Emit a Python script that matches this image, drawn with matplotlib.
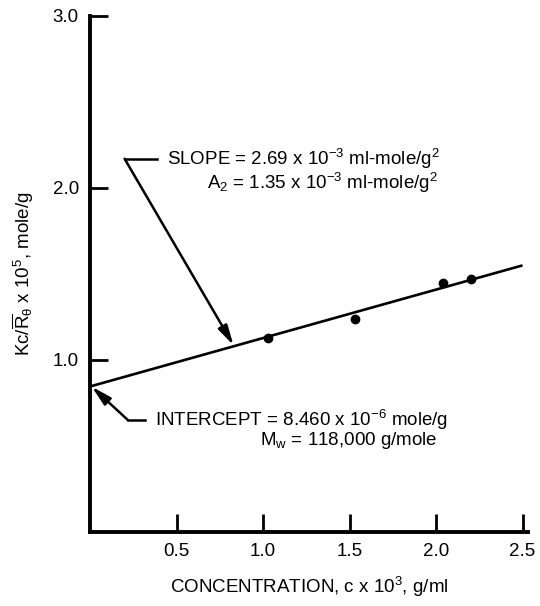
import matplotlib
matplotlib.use('Agg')
import matplotlib.pyplot as plt

plt.rcParams['font.family'] = ['Liberation Sans', 'DejaVu Sans']
plt.rcParams['mathtext.fontset'] = 'custom'
plt.rcParams['mathtext.rm'] = 'Liberation Sans'
plt.rcParams['mathtext.it'] = 'Liberation Sans:italic'
plt.rcParams['mathtext.default'] = 'regular'

# measured points (c x 10^3 g/ml, Kc/R x 10^5 mole/g)
conc = [1.03, 1.53, 2.04, 2.20]
kc_r = [1.13, 1.24, 1.45, 1.47]

# fitted line ends
fit_x = [0.0, 2.5]
fit_y = [0.846, 1.55]

x_ticks = [0.5, 1.0, 1.5, 2.0, 2.5]
y_ticks = [1.0, 2.0, 3.0]

fs = 13.5

fig = plt.figure(figsize=(5.4, 6.06), dpi=100)
ax = fig.add_axes([90 / 540, 74 / 606, 438 / 540, 516 / 606])

ax.plot(fit_x, fit_y, color='black', lw=1.9, solid_capstyle='butt')
ax.plot(conc, kc_r, 'o', color='black', ms=6)

ax.set_xlim(0, 438 / 173)
ax.set_ylim(0, 3.0)
ax.set_xticks(x_ticks)
ax.set_xticklabels(['%.1f' % v for v in x_ticks])
ax.set_yticks(y_ticks)
ax.set_yticklabels(['%.1f' % v for v in y_ticks])
ax.tick_params(direction='in', length=13, width=2, labelsize=fs, pad=8, color='black')

for s in ['top', 'right']:
    ax.spines[s].set_visible(False)
for s in ['left', 'bottom']:
    ax.spines[s].set_linewidth(2.8)

ax.set_xlabel('CONCENTRATION, c x 10$^3$, g/ml', fontsize=fs, labelpad=11)
ax.set_ylabel(r'Kc/$\overline{R}_\theta$ x 10$^5$, mole/g', fontsize=fs, labelpad=12)

arrow = dict(arrowstyle='-|>,head_length=1.2,head_width=0.3',
             color='black', lw=1.8, shrinkA=0, shrinkB=0)

# slope callout
ax.plot([0.39, 0.20], [2.17, 2.17], color='black', lw=1.8)
ax.annotate('', xy=(0.83, 1.085), xytext=(0.20, 2.17), arrowprops=arrow)
ax.text(0.445, 2.17, 'SLOPE = 2.69 x 10$^{-3}$ ml-mole/g$^2$', fontsize=fs, va='center')
ax.text(0.676, 2.03, 'A$_2$ = 1.35 x 10$^{-3}$ ml-mole/g$^2$', fontsize=fs, va='center')

# intercept callout
ax.plot([0.32, 0.22], [0.65, 0.65], color='black', lw=1.8)
ax.annotate('', xy=(0.01, 0.845), xytext=(0.22, 0.65), arrowprops=arrow)
ax.text(0.376, 0.65, 'INTERCEPT = 8.460 x 10$^{-6}$ mole/g', fontsize=fs, va='center')
ax.text(0.98, 0.53, 'M$_w$ = 118,000 g/mole', fontsize=fs, va='center')

fig.savefig('out.png', dpi=100, facecolor='white')
